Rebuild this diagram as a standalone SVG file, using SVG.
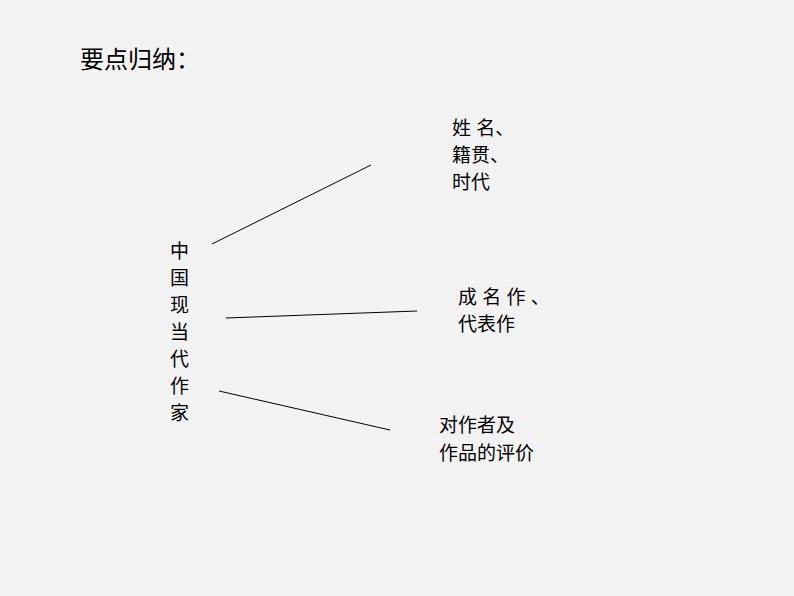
<svg xmlns="http://www.w3.org/2000/svg" width="794" height="596" viewBox="0 0 794 596">
<style>
text{font-family:"Liberation Sans","Noto Sans CJK SC",sans-serif;fill:#000}
.t{font-size:19px}
.c line{stroke:#000;stroke-width:1}
</style>
<rect width="794" height="596" fill="#f2f2f2"/>
<g id="title"><text x="80" y="68" font-size="24">要点归纳：</text></g>
<g id="center" class="t">
<text x="170" y="258">中</text><text x="170" y="285">国</text><text x="170" y="312">现</text><text x="170" y="339">当</text><text x="170" y="366">代</text><text x="170" y="393">作</text><text x="170" y="420">家</text>
</g>
<g id="n1" class="t"><text x="452" y="135">姓 名、</text><text x="452" y="162">籍贯、</text><text x="452" y="189">时代</text></g>
<g id="n2" class="t"><text x="458" y="304">成 名 作 、</text><text x="458" y="331">代表作</text></g>
<g id="n3" class="t"><text x="439" y="432">对作者及</text><text x="439" y="460">作品的评价</text></g>
<g id="connectors" class="c">
<line x1="212" y1="244" x2="371" y2="165"/>
<line x1="226" y1="318" x2="417" y2="311"/>
<line x1="219" y1="391" x2="390" y2="430"/>
</g>
</svg>
